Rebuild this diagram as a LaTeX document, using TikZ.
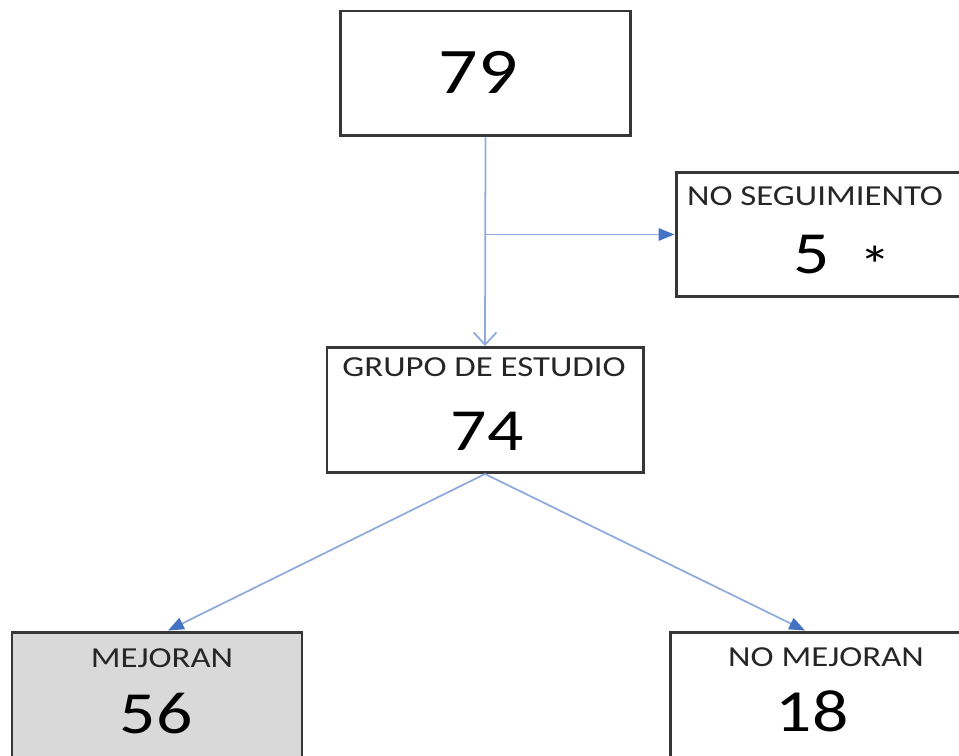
\documentclass[tikz,border=0pt]{standalone}
\usepackage{fontspec}
\setmainfont{Carlito}
\usepackage{xcolor}
\usetikzlibrary{arrows.meta,calc}

\definecolor{flecha}{RGB}{68,114,196}
\definecolor{linea}{RGB}{143,170,220}
\definecolor{borde}{RGB}{55,55,55}
\definecolor{relleno}{RGB}{217,217,217}
\newcommand{\ancho}[1]{\scalebox{1.2}[1]{#1}}

\begin{document}
\begin{tikzpicture}[x=0.02cm,y=-0.02cm,
        caja/.style={draw=borde,line width=1.7pt,minimum width=#1*0.02cm,minimum height=2.5cm,inner sep=0pt},
        tit/.style={inner sep=0pt,text=black!85,font=\fontsize{16.5}{18}\selectfont},
        num/.style={inner sep=0pt,text=black,font=\fontsize{34}{38}\selectfont},
        conector/.style={draw=linea,line width=1pt,-{Triangle[length=9pt,width=7pt,color=flecha]}}]
    \useasboundingbox (0,0) rectangle (959,756);
    \node[caja=290] (inicio) at (485.5,73.5) {};
    \node[num,font=\fontsize{37}{40}\selectfont] (inicio-n) at (478,72) {\ancho{79}};
    \node[caja=290] (noseg) at (821,234.5) {};
    \node[tit] (noseg-t) at (815,196) {\ancho{NO SEGUIMIENTO}};
    \node[num] (noseg-n) at (812,255) {\ancho{5}};
    \node[inner sep=0pt,anchor=north,font=\fontsize{30}{32}\selectfont] (noseg-a) at (875,246) {\ancho{*}};
    \node[caja=316] (grupo) at (485,410) {};
    \node[tit] (grupo-t) at (484,367) {\ancho{GRUPO DE ESTUDIO}};
    \node[num] (grupo-n) at (487,431) {\ancho{74}};
    \node[caja=290,fill=relleno] (mejoran) at (157,694.5) {};
    \node[tit] (mejoran-t) at (162,658) {\ancho{MEJORAN}};
    \node[num] (mejoran-n) at (156,714) {\ancho{56}};
    \node[caja=290] (nomejoran) at (815,694.5) {};
    \node[tit] (nomejoran-t) at (826,657) {\ancho{NO MEJORAN}};
    \node[num] (nomejoran-n) at (812,711) {\ancho{18}};
    \draw[draw=linea,line width=1pt,-{Straight Barb[length=7pt,width=13pt]}] (inicio.south) -- (grupo.north);
    \coordinate (rama) at (inicio.south |- noseg.west);
    \draw[conector] (rama) -- (noseg.west);
    \draw[conector] (grupo.south) -- ([xshift=0.22cm]mejoran.north);
    \draw[conector] (grupo.south) -- ([xshift=-0.2cm]nomejoran.north);
\end{tikzpicture}
\end{document}
